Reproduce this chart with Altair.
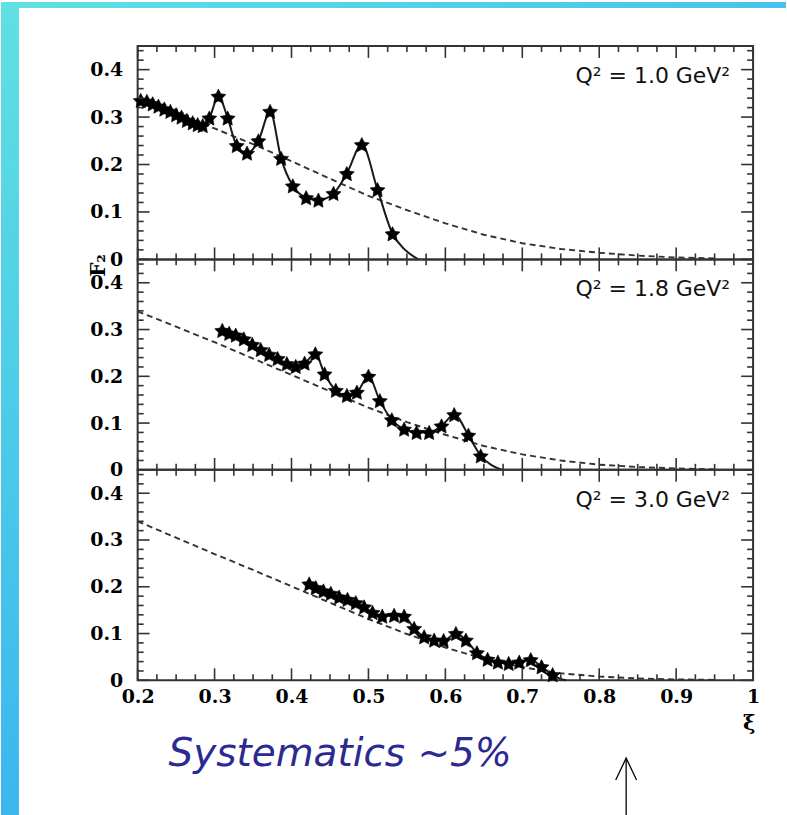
import altair as alt
import pandas as pd

# ---------------------------------------------------------------- data
q2_labels = ["Q² = 1.0 GeV²", "Q² = 1.8 GeV²", "Q² = 3.0 GeV²"]

# Q^2 = 1.0 GeV^2 : measured F2 points
xi_q1 = [0.204, 0.212, 0.2195, 0.227, 0.2347, 0.2425, 0.250, 0.257, 0.264,
         0.2716, 0.278, 0.2846, 0.2932, 0.305, 0.317, 0.3288, 0.3422, 0.357,
         0.3722, 0.3865, 0.4017, 0.419, 0.435, 0.4546, 0.4719, 0.4914,
         0.5118, 0.5313]
f2_q1 = [0.335, 0.333, 0.328, 0.323, 0.317, 0.312, 0.305, 0.300, 0.293,
         0.288, 0.284, 0.282, 0.298, 0.344, 0.298, 0.240, 0.224, 0.250,
         0.312, 0.213, 0.155, 0.130, 0.125, 0.139, 0.181, 0.242,
         0.147, 0.054]
tail_xi_q1 = [0.547, 0.565]
tail_f2_q1 = [0.021, 0.0]

# Q^2 = 1.8 GeV^2
xi_q18 = [0.310, 0.319, 0.3275, 0.338, 0.349, 0.360, 0.371, 0.382, 0.394,
          0.4055, 0.417, 0.431, 0.443, 0.4576, 0.472, 0.485, 0.500, 0.5148,
          0.5304, 0.5464, 0.5626, 0.5789, 0.595, 0.6115, 0.630, 0.646]
f2_q18 = [0.298, 0.292, 0.288, 0.280, 0.268, 0.257, 0.247, 0.238, 0.227,
          0.221, 0.228, 0.248, 0.205, 0.170, 0.159, 0.166, 0.200, 0.148,
          0.107, 0.087, 0.080, 0.080, 0.094, 0.118, 0.074, 0.030]
tail_xi_q18 = [0.660, 0.674]
tail_f2_q18 = [0.010, 0.0]

# Q^2 = 3.0 GeV^2
xi_q3 = [0.423, 0.4315, 0.4415, 0.4511, 0.4619, 0.4728, 0.4836, 0.4944,
         0.5053, 0.518, 0.5334, 0.5464, 0.5594, 0.5724, 0.5854, 0.5977,
         0.6137, 0.6267, 0.641, 0.6549, 0.6683, 0.6823, 0.696, 0.711,
         0.725, 0.7394]
f2_q3 = [0.206, 0.198, 0.191, 0.186, 0.178, 0.173, 0.166, 0.157,
         0.145, 0.137, 0.139, 0.137, 0.111, 0.093, 0.086, 0.085,
         0.100, 0.086, 0.059, 0.045, 0.039, 0.036, 0.039, 0.044,
         0.029, 0.012]
tail_xi_q3 = [0.748, 0.757]
tail_f2_q3 = [0.004, 0.0]

# dashed reference curves (one per Q^2)
dash_xi = [0.20, 0.25, 0.30, 0.35, 0.40, 0.45, 0.50, 0.55, 0.60, 0.65,
           0.70, 0.75, 0.80, 0.85, 0.90, 0.95]
dash_q1 = [0.338, 0.308, 0.276, 0.243, 0.207, 0.170, 0.134, 0.104, 0.076,
           0.052, 0.034, 0.022, 0.014, 0.008, 0.004, 0.002]
dash_q18 = [0.339, 0.306, 0.273, 0.238, 0.203, 0.168, 0.133, 0.102, 0.075,
            0.051, 0.033, 0.020, 0.011, 0.006, 0.003, 0.001]
dash_q3 = [0.340, 0.305, 0.270, 0.236, 0.201, 0.166, 0.131, 0.099, 0.070,
           0.046, 0.028, 0.015, 0.008, 0.004, 0.002, 0.001]

# axis ticks
major_x = [0.2, 0.3, 0.4, 0.5, 0.6, 0.7, 0.8, 0.9, 1.0]
minor_x = [0.225, 0.25, 0.275, 0.325, 0.35, 0.375, 0.425, 0.45, 0.475,
           0.525, 0.55, 0.575, 0.625, 0.65, 0.675, 0.725, 0.75, 0.775,
           0.825, 0.85, 0.875, 0.925, 0.95, 0.975]
major_y = [0.0, 0.1, 0.2, 0.3, 0.4]
minor_y = [0.02, 0.04, 0.06, 0.08, 0.12, 0.14, 0.16, 0.18, 0.22, 0.24,
           0.26, 0.28, 0.32, 0.34, 0.36, 0.38, 0.42, 0.44]

arrow_xi = [0.835]
note_text = ["Systematics ~5%"]

# ---------------------------------------------------------------- styling
W = 617
HEIGHTS = [214, 211, 211]
MAJOR, MINOR = 12, 6
FRAME = "#333333"
STAR = ("M0,-0.905L0.294,-0.309L0.951,-0.214L0.476,0.25L0.588,0.905"
        "L0,0.596L-0.588,0.905L-0.476,0.25L-0.951,-0.214L-0.294,-0.309Z")
ARROW_HEAD = "M-0.95,1L0,-1L0.95,1"

xs = alt.Scale(domain=[0.2, 1.0], nice=False, zero=False)
ys = alt.Scale(domain=[0.0, 0.45], nice=False, zero=False)
one = pd.DataFrame({"k": [0]})


def make_panel(i, sx, sf, tx, tf, dashed_vals, show_x, extras=()):
    h = HEIGHTS[i]
    xaxis = (alt.Axis(values=major_x, format=".1~f", labelFlush=False,
                      ticks=False, tickSize=0, domain=False, grid=False,
                      labelPadding=7, title=None)
             if show_x else None)
    yaxis = alt.Axis(values=major_y, format=".1~f", labelFlush=False,
                     ticks=False, tickSize=0, domain=False, grid=False,
                     labelPadding=15, title=None)

    def X(f):
        return alt.X(f, type="quantitative", scale=xs, axis=xaxis)

    def Y(f):
        return alt.Y(f, type="quantitative", scale=ys, axis=yaxis)

    stars = pd.DataFrame({"xi": sx, "f2": sf})
    curve = pd.DataFrame({"xi": sx + tx, "f2": sf + tf})
    dashed = pd.DataFrame({"xi": dash_xi, "f2": dashed_vals})

    dash_layer = alt.Chart(dashed).mark_line(
        color="#333333", strokeWidth=1.9, strokeDash=[6, 4]
    ).encode(x=X("xi"), y=Y("f2"))
    fit_layer = alt.Chart(curve).mark_line(
        color="#1a1a1a", strokeWidth=2, interpolate="monotone"
    ).encode(x=X("xi"), y=Y("f2"))
    star_layer = alt.Chart(stars).mark_point(
        shape=STAR, size=250, filled=True, color="black", opacity=1,
        stroke="black", strokeWidth=0.6
    ).encode(x=X("xi"), y=Y("f2"))

    def xticks(vals, ln):
        d = pd.DataFrame({"v": vals})
        bot = alt.Chart(d).mark_rule(color=FRAME, strokeWidth=1.6).encode(
            x=X("v"), y=alt.value(h), y2=alt.value(h - ln))
        top = alt.Chart(d).mark_rule(color=FRAME, strokeWidth=1.6).encode(
            x=X("v"), y=alt.value(0), y2=alt.value(ln))
        return [bot, top]

    def yticks(vals, ln):
        d = pd.DataFrame({"v": vals})
        left = alt.Chart(d).mark_rule(color=FRAME, strokeWidth=1.6).encode(
            y=Y("v"), x=alt.value(0), x2=alt.value(ln))
        right = alt.Chart(d).mark_rule(color=FRAME, strokeWidth=1.6).encode(
            y=Y("v"), x=alt.value(W), x2=alt.value(W - ln))
        return [left, right]

    label = alt.Chart(pd.DataFrame({"t": [q2_labels[i]]})).mark_text(
        font="DejaVu Sans", fontSize=22, align="right", baseline="alphabetic",
        color="#111111"
    ).encode(text="t:N", x=alt.value(W - 23), y=alt.value(37))

    layers = (list(extras) + [dash_layer, fit_layer, star_layer]
              + xticks(major_x, MAJOR) + xticks(minor_x, MINOR)
              + yticks(major_y, MAJOR) + yticks(minor_y, MINOR) + [label])
    return alt.layer(*layers).properties(width=W, height=h)


# page frame: gradient strips along the top and left edges
top_strip = alt.Chart(one).mark_rect(
    fill=alt.LinearGradient(
        gradient="linear", x1=0, x2=1, y1=0, y2=0,
        stops=[alt.GradientStop(color="#60e0e2", offset=0),
               alt.GradientStop(color="#45c3ef", offset=1)])
).encode(x=alt.value(-137), x2=alt.value(650), y=alt.value(-44), y2=alt.value(-38))
left_strip = alt.Chart(one).mark_rect(
    fill=alt.LinearGradient(
        gradient="linear", x1=0, x2=0, y1=0, y2=1,
        stops=[alt.GradientStop(color="#60e0e2", offset=0),
               alt.GradientStop(color="#3cb6ef", offset=1)])
).encode(x=alt.value(-137), x2=alt.value(-119), y=alt.value(-44), y2=alt.value(771))
f2_title = alt.Chart(pd.DataFrame({"t": ["F₂"]})).mark_text(
    font="DejaVu Serif", fontWeight="bold", fontSize=20, angle=270,
    align="center", baseline="middle", color="black"
).encode(text="t:N", x=alt.value(-39), y=alt.value(220))

# below the last panel: axis symbol, note and arrow
xi_title = alt.Chart(pd.DataFrame({"t": ["ξ"]})).mark_text(
    font="DejaVu Serif", fontWeight="bold", fontSize=21,
    align="center", baseline="middle", color="black"
).encode(text="t:N", x=alt.value(613), y=alt.value(255))
note = alt.Chart(pd.DataFrame({"t": note_text})).mark_text(
    font="DejaVu Sans", fontStyle="italic", fontSize=39,
    align="center", baseline="alphabetic", color="#2a2a92"
).encode(text="t:N", x=alt.value(203), y=alt.value(297))
arrow_df = pd.DataFrame({"xi": arrow_xi})
arrow_x = alt.X("xi", type="quantitative", scale=xs)
arrow_shaft = alt.Chart(arrow_df).mark_rule(color="black", strokeWidth=1.3).encode(
    x=arrow_x, y=alt.value(290), y2=alt.value(346))
arrow_head = alt.Chart(arrow_df).mark_point(
    shape=ARROW_HEAD, size=484, filled=False, color="black",
    strokeWidth=1.3, opacity=1
).encode(x=arrow_x, y=alt.value(300))

p1 = make_panel(0, xi_q1, f2_q1, tail_xi_q1, tail_f2_q1, dash_q1, False,
                extras=[top_strip, left_strip, f2_title])
p2 = make_panel(1, xi_q18, f2_q18, tail_xi_q18, tail_f2_q18, dash_q18, False)
p3 = make_panel(2, xi_q3, f2_q3, tail_xi_q3, tail_f2_q3, dash_q3, True,
                extras=[xi_title, note, arrow_shaft, arrow_head])

chart = alt.vconcat(p1, p2, p3, spacing=0, bounds="flush").properties(
    padding=0, background="white"
).configure_view(
    stroke=FRAME, strokeWidth=2
).configure_axis(
    labelFont="DejaVu Serif", labelFontWeight="bold", labelFontSize=19,
    labelColor="black"
)

chart.save("out.html", embed_options={"renderer": "svg", "actions": False})
